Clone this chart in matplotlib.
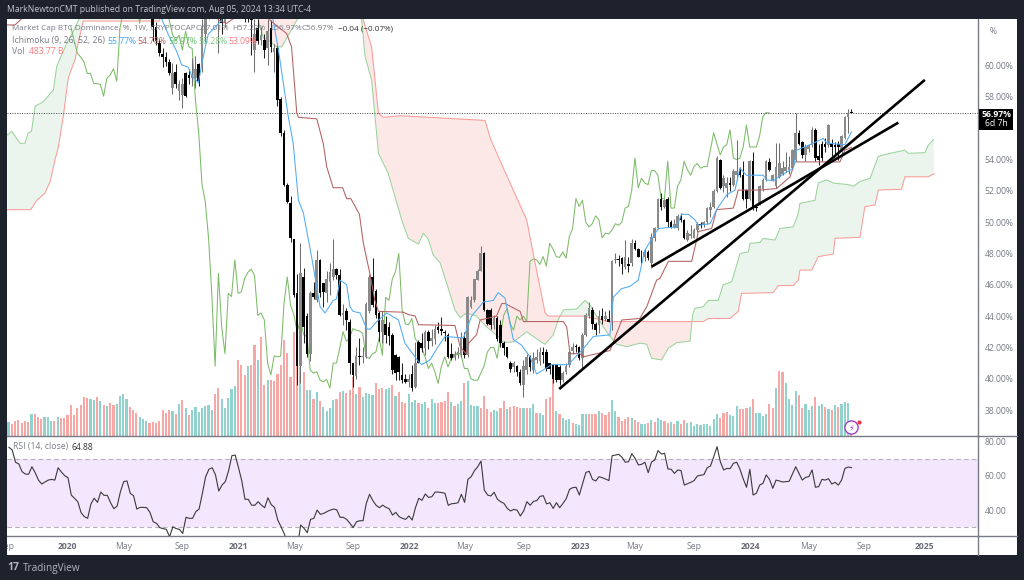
import numpy as np
import matplotlib
matplotlib.use("Agg")
import matplotlib.pyplot as plt
from matplotlib.patches import Rectangle

plt.rcParams['font.family'] = ['Open Sans', 'DejaVu Sans']

# ---------- data ----------
candle_first_week = 44
opens = [
 63.5,62.5,61.45,60.75,60.55,60.25,58.55,59.6,58.35,58.1,
 59.5,59.4,59.2,59.2,60.1,60,62,63.5,65,65.5,
 63.5,64,62.7,65,65,66,67,68.5,68,66.5,
 63.5,61,62.4,61.65,61.65,61.1,62.4,60.9,61.1,57.9,
 55.7,52.4,51.25,48.9,45.5,40.8,46.5,44,41.6,45.45,
 45,47.6,46.1,45.45,46.2,46.5,47,46.6,44.1,44.3,
 43.65,41,40.15,41.45,41.4,41.4,44.3,46.5,45.6,44.2,
 43,43.5,43.3,42.8,41.5,41.4,40.25,40,39.8,40.3,
 39.5,42.35,42.25,41.95,43,42.4,42.55,43.3,43.2,43,
 42.8,41.6,41.4,41.5,41.6,42.6,41.5,44.6,45,46.3,
 46.9,48,44.4,44.4,43.45,43.9,43.4,42.3,42,41,
 40.75,40.8,40.45,39.6,40.55,41.4,40.55,41.2,41.1,41.7,
 41.7,41,40.85,40.85,40.75,39.9,40.4,40.85,41.8,42.1,
 42,41.3,42.8,44,44.4,43.5,43.4,44,43.8,43.8,
 43.6,47.6,47.65,47.7,47.15,47.35,47.4,48.65,48.3,47.8,
 47.8,48.1,47.4,49,49.6,51.5,51,51.5,50,49.6,
 49.65,50.4,50.15,48.85,49.1,49,49.5,49.9,49.8,50,
 50.8,51,52,54,52.3,52.2,52.5,52.4,53,53.4,
 53,52.05,51.5,53.9,51,51.2,52.1,52.7,53.85,52.7,
 52.3,52.9,53.05,53.25,53.35,53.45,54,55.7,55.1,54.3,
 54.7,54.95,55.9,54.2,55,55,54.95,55,54.95,55,
 54.5,55.4,56.7,57.01]
highs = [
 64,62.8,61.7,61.1,60.9,60.4,60.2,60.1,59.1,59.2,
 59.6,59.8,60.5,60.6,60.2,63,65,66,66,67,
 66,65,66,66,67,68,69,70,69,67.5,
 64,63,63,62.5,62,63,62.9,61.4,61.3,58,
 55.9,52.5,51.67,48.95,46.7,48.65,47.05,44.2,45.6,46.2,
 48.2,47.65,46.1,46.9,47.4,48.9,47.1,47,44.8,44.5,
 43.8,41,42,42.6,42,44.9,46.7,47.7,45.7,44.3,
 44.3,44,43.6,42.9,41.6,41.45,41,40.3,40.3,40.9,
 42.35,42.5,42.9,43.1,43.1,43.2,43.4,43.6,43.96,43.1,
 42.9,42.25,41.8,42,43,43,45.3,45.3,46.4,47,
 48.45,48.1,44.45,44.5,44.1,44,43.75,42.4,42,41.1,
 41.1,40.9,40.6,41.2,41.6,41.5,41.7,41.9,42,42.05,
 41.9,41,40.9,40.9,40.9,40.5,41,41.85,42.3,42.2,
 42.1,42.9,44.2,44.9,44.6,43.6,44.4,44.5,44.3,44.4,
 47.6,48,47.9,47.8,48.85,47.8,48.9,48.85,48.35,48.2,
 48.3,48.2,49.3,49.7,51.55,51.85,51.5,51.6,50.15,50.2,
 50.5,50.6,50.2,49.5,49.8,49.6,50,50,50.1,51,
 51.3,52.1,54.2,54.05,53,52.9,52.9,53.4,55.25,53.5,
 53.9,52.1,54,54.5,51.1,52.4,52.8,54,54.1,53.1,
 55.05,55.05,53.9,54.5,54.2,54.7,57,55.9,55.2,55,
 55,56.1,56,55,55.2,55.4,56.3,55.3,55.1,55.2,
 55.6,56.8,57.2,57.22]
lows = [
 61.6,61.3,60.6,59.9,60,59.4,58.2,58.55,57.8,57.3,
 58,58.85,58.7,58.6,58.7,59.6,61.5,63,64,64.5,
 60.8,62,62.5,64,64.5,65.5,66,67,62.8,62.8,
 60.7,59.6,61.4,61.3,60.5,60.05,60.9,59.6,57.4,55.5,
 52.3,51.2,48.75,45.2,39.6,39.7,42.25,41.4,41.1,45.1,
 44.9,45.2,44.6,44.9,45.35,46.3,46.4,44,43.4,43.1,
 40.3,39.5,39.95,40.9,41,41.3,44.2,44.6,43.9,42.4,
 42.3,42.3,42.15,40.3,39.9,39.9,39.7,39.7,39.5,39.2,
 39.4,41,41.7,41.5,41.9,42.1,42.2,42.9,42.8,42.4,
 41.3,41.2,41.2,41.3,41.4,41.3,41.4,44.5,44.9,46.3,
 46.85,44.3,43.4,43.2,43.2,42.4,42.05,41.5,41.3,40.45,
 40.4,40.2,39.6,38.85,40.3,40.5,40.35,41,40.9,41,
 40.5,40.3,39.7,39.8,39.6,39.8,40.3,40.75,41.6,41.7,
 41.2,40.6,42.7,43.9,43.2,42.8,42.9,43.5,43.7,43.6,
 43.1,47.4,47.2,46.7,47,46.8,47.2,48.2,47.75,47.4,
 47.5,47.6,47.1,48.8,49.55,50.8,50.9,49.7,49.6,49.6,
 49.5,50,48.9,48.8,49,49,49.4,49.6,49.7,49.9,
 50.3,50.9,51.9,52.1,51.9,51.6,52,52.3,52.7,52.9,
 51.4,50.9,51.4,50.8,50.7,51.1,52,52.6,53.3,52.6,
 52.2,52.8,53,53.2,53.1,53.4,53.9,54.9,54.1,53.9,
 54.5,54.8,53.9,53.65,53.9,54.5,54.8,54.2,54.3,54,
 54.3,55.3,55.7,56.97]
closes = [
 62.5,61.6,60.8,60.55,60.25,59.5,59.5,58.85,58.85,58.8,
 58.05,59.2,59.4,59.8,59,62.4,63.5,65,65.5,66,
 64,62.7,65,64.8,66,67,68.5,68,66.5,64,
 62.9,62,61.6,61.95,61,62.2,61.2,61.1,57.8,55.7,
 52.4,51.3,48.97,45.35,40.8,46.73,43.3,41.6,45.45,45.25,
 47.6,45.45,45.55,46.4,46.8,47,46.6,44.05,44.2,43.75,
 41,40.25,41.45,41.4,41.45,44.8,46.5,44.7,44.1,43,
 43.75,42.8,42.7,40.55,40.35,40.45,39.9,39.8,39.95,39.4,
 41,41,41.95,43,42.4,42.6,43.2,43.1,43.05,42.9,
 41.4,41.3,41.6,41.7,42.6,41.5,45.2,45,46.35,46.85,
 48,44.4,43.5,43.45,43.85,42.55,42.3,41.95,41.4,40.65,
 41,40.45,39.7,40.8,41.4,40.75,41.3,41.4,41.7,41.5,
 40.65,40.65,40,39.9,39.9,40.35,40.8,41.7,42,42,
 41.3,42.8,44.05,44.5,43.5,43.1,44,43.75,44,43.65,
 47.5,47.65,47.6,47.3,47.8,47.2,48.65,48.3,47.8,47.75,
 48.1,47.7,49.08,49.6,51.5,51,51.4,50,49.7,49.9,
 50.4,50.15,49,49.3,49.25,49.5,49.9,49.8,50,50.9,
 51,52,54.1,52.2,52.8,52.5,52.4,53.3,53.3,53,
 51.5,51.5,53.9,50.9,50.9,52.3,52.7,53.9,53.35,53,
 53.55,53.75,53.45,53.55,53.55,54.6,55.7,55,54.3,54.8,
 54.95,55.9,54.1,54,54.1,54.8,56.2,54.8,54.8,54.8,
 55.5,56.75,57,56.97]

volume = [
 41,37,44,47,38,44,42,65,65,58,
 51,58,56,44,44,58,55,53,64,92,
 64,84,92,116,114,112,108,118,106,93,
 90,98,93,96,120,127,110,87,77,70,
 56,50,45,38,42,38,45,77,69,78,
 75,66,96,108,84,64,79,86,71,83,
 90,92,79,125,143,111,83,114,141,150,
 228,212,183,210,214,272,228,297,153,168,
 168,164,185,212,288,248,177,313,298,208,
 193,138,137,112,131,104,87,75,83,108,
 111,131,134,130,139,178,125,147,117,128,
 126,123,159,141,144,140,144,153,121,132,
 101,100,126,101,107,99,96,102,83,110,
 100,98,101,104,131,103,91,97,104,160,
 164,93,91,91,85,120,81,71,78,76,
 84,104,80,87,89,86,83,83,84,83,
 95,70,68,63,112,116,205,75,66,53,
 47,50,38,36,33,65,65,66,66,66,
 76,70,63,71,108,76,56,45,51,56,
 53,48,43,35,36,40,48,42,53,48,
 45,40,41,35,45,36,47,38,43,31,
 37,34,35,37,31,50,65,55,70,72,
 62,61,91,81,81,83,87,110,69,69,
 60,65,96,85,145,195,193,158,112,94,
 134,122,84,96,77,90,117,91,96,88,
 81,77,93,87,96,101,99,27]
volume_dir = ("trrrrrrtrr" "rtttrtrrrr" "rrrrrttrtr" "trrttttrrr" "tttrrrrrrr"
              "trtrtrtttt" "tttrrttttt" "rrrtrrtrrt" "rrrrrrrrrt" "rttrtrtttt"
              "rrtrrrtrtt" "ttrrrttrtr" "rrtttrttrt" "trrrrtrttr" "ttttrrrrtt"
              "rrtrrrrtrt" "trttrrrtrt" "ttrttttrrr" "trrrttrrrr" "trrttrtrtt"
              "rrtrtrrttt" "tttttttrrr" "tttrrrtrtt" "ttrrtrrttt" "trrtttrttr"
              "trtrtttr")

tenkan_week = [46.7,48.7,51.3,52.8,54.8,55.8,57.9,58.9,59.9,60.9,65,68,78,80.7,82.3,85.3,86.8,88.4,89.9,92.4,95,96.5,99,100,101.1,103.1,104.1,105.1,107.2,109.2,110.2,112.3,115.3,118.9,120.9,125,126,128.5,131,133.1,138.7,141.2,144.8,147.8,149.3,151.4,153.9,156.4,159,161,165.6,170.7,175.8,178.3,183.4,184.4,186.9,189.5,192,194,198.1,203.7,205.2,207.3,209.3,210.3,213.9,215.9,219,221.5,223,225,230.1,231.2,233.2,235.7,239.3,240.3,244.4,248.4,249.5,255,257]
tenkan = [63,62,60.9,60.05,59.9,59.4,58.9,60.05,61.1,62,62.9,65,65,62.9,61,56.75,55.05,51.4,50.6,47.8,44.6,44.2,45,45.1,46.3,46,44.6,44.3,44.2,43.2,43.15,43.65,44.2,43.75,42.25,41.1,40.9,41.2,42.05,42.7,42.6,44,44.9,45,45.5,45.15,42.5,42.15,41.4,40.3,40.9,40.9,42.05,42.7,42.8,45.2,45.75,45.9,46.3,48.2,49.6,49.7,50.5,50.5,50.15,49.8,49.9,50.8,51.75,52.05,53.45,53,53,52.7,52.65,53,53.45,54.6,54.95,55.35,55.05,54.95,55.77]

kijun_week = [-0.5,2,4,8,60,64,66.5,68.5,72,78,79.7,84.8,86.3,87.9,88.4,94,96,97,99,101.9,103.1,104.4,107,108.2,110.2,111.7,112.8,120.4,121.9,124,125,136.1,137.7,139.5,140.2,142.7,143.8,148.8,150.4,151.4,156,157,169.2,170.2,171.2,174.2,175.3,183.4,187,192.5,194.6,197.6,198.6,201.2,208.3,209.8,210.3,214.4,215.9,221,222.5,229.1,234.2,238.3,239.8,253.5,255,257]
kijun = [62.6,62.6,63,65,65,62.9,62.7,63,66,66,62.9,62.05,61.2,56.96,56.7,56.6,55,53.55,52.2,52.2,51.5,51.5,50.5,48.65,46.7,45,44.3,44.25,44.1,44,43.45,43.4,42.05,41.6,42.25,42.8,43.75,44,44.8,44.8,44.3,43.65,43.65,43.3,41.6,41.6,41.4,41.8,43.75,43.85,44.6,46.3,46.4,47.5,47.5,48.85,49.4,49.6,50.8,50.9,52.05,52.05,52.15,52.9,53.85,53.85,54.6,54.78]

span_a_week = [-0.4,1,3.5,5,6,7,8.1,10.6,13.7,14.7,17.7,20.3,21.3,24,46,60,72,76.2,77.7,79.2,81.8,83.3,84.8,87.9,92,105,107.7,108.7,110.7,112.8,115.8,119.9,121.9,125,126.5,128,129.5,131.6,133.6,136.1,137.7,139.7,142.7,145.8,149.9,150.9,153.9,158,162,163.6,166.1,167.6,169.2,173.2,175.8,177.3,179.3,181.4,183.4,185.4,188.5,192.5,194.6,196.1,199.1,201.2,203.7,207.8,208.6,209.3,211.8,213.4,216.4,217.9,220.5,222.5,223,225.6,226.1,229.1,230.1,233.7,235.2,239.3,240.8,241.3,245.9,246.9,249.4,251.5,256,257.6,259.6,262.7,265.2,267.7,273.3,274.3,279.4,280.4,282]
span_a = [55.57,55.8,55.04,55.04,55.7,55.8,57.4,57.7,58.45,59.95,61.4,62.4,62.9,64,65,66,65,62.9,61.75,61.65,61.2,61.2,61.75,62.9,64.5,64.5,62.9,60.6,59.1,54.4,53.1,50.14,48.97,48.6,49.3,48.9,47.9,47.4,46.1,44.4,43.9,44.2,44,43.3,42.6,42.3,42.35,43,42.4,42.2,42.8,43.75,44.4,44.45,45,44.7,44,43.3,42.7,42.2,42.05,42.27,42.2,41.3,41.2,41.95,42.3,42.4,44.1,44.5,44.6,45,45,46,46.2,47.6,48,48.1,48.65,48.7,48.96,48.86,49.6,49.7,50.56,51.2,51.4,52.5,52.7,52.5,52.4,52.3,52.6,52.8,54.2,54.35,54.6,54.4,54.44,54.9,55.28]

span_b_week = [-0.4,6.8,8.6,11.1,12.7,14.2,15.2,16.7,18.2,20.3,21.3,22.8,46,50,105,108.2,110.7,112.8,114.3,119.4,145.3,147,151,158,160,162,163.6,164.6,175.3,183.4,192.5,211.8,213.4,220,222.5,223.5,233.2,234.7,239.3,240.8,241.3,244.9,246.9,251.5,252,259.6,261.1,264.2,265.2,272.3,273.3,280.4,282.2]
span_b = [50.8,50.8,51.4,51.85,52.6,54,54.8,56.75,59.2,60.4,61.5,62.85,62.85,66,66,62.9,61.2,56.96,56.7,56.8,56.5,55.3,53.4,50.14,48,45.9,44.2,44,44,43.65,43.65,43.65,43.85,43.85,44.3,45.45,45.5,45.95,45.95,46.3,46.94,46.94,47.8,47.96,48.97,49.03,50.99,51.1,52.05,52.1,52.9,52.9,53.09]

rsi = [
 76.7,75.1,68,67,62.5,61.1,61,65.4,61.9,57.6,
 55.3,56.5,57.6,58,57.6,64.8,62.3,60.2,59,48.9,
 47,45,38.6,36.3,35.3,43.7,47,44.6,50.6,48.7,
 48.7,44.4,40.9,42.5,50.8,56.7,57.1,49.9,48.5,40.7,
 41.7,41.7,41.5,38.8,33.3,32.4,29.9,29.3,28.9,24.6,
 30.4,29.3,28.9,26.5,35.9,35.3,35.3,39.2,40.7,49.9,
 59.6,63.9,64.8,60.6,51.2,54.7,56.7,63.1,71.8,72.2,
 65,57.3,46.4,46.4,43,42.9,45,43,41.5,47.3,
 43.3,41.7,34.3,30.4,26.2,20.7,18.8,18.8,18.8,31.4,
 29.5,26.9,34.7,35.3,40.1,37.6,38.2,39.2,40.1,40.7,
 40.3,35.9,35.9,34.7,32.4,29.9,33.3,33.9,33.9,44,
 49.3,45.6,42.9,41.5,43,41.7,40.9,37.2,38.8,36.3,
 35.3,34.7,36.7,34.3,41.5,47,45.8,49.5,47.5,47.9,
 50.6,50.6,50.3,49.9,42.9,43.8,44,44.4,49.3,44.6,
 58,59.6,63.1,65.4,68.7,51.8,48.9,48.3,50.5,46.4,
 45,44,41.1,39.6,40.5,40.1,36.7,39.6,45,42.9,
 45.2,45.6,48.1,48.5,43.7,44.4,41.1,44.4,41.5,44,
 46.8,52.2,53.2,53.4,48.9,55.7,62.1,62.7,58,57.1,
 59.6,59,58.2,57.3,71.8,72.2,72.6,70.9,68,68.3,
 73,70.3,66.4,66.8,68,61.9,68.1,69.3,74.8,72.8,
 73.2,64.1,63.9,61.5,63.5,63.1,54.7,55.5,56.3,57.3,
 60,60.4,60.8,64.8,65.8,71.3,77.1,68.3,63.5,64.4,
 64.3,67.4,68,63.9,58.2,53.4,63.9,48.9,49.9,54.7,
 55.7,60.6,58,52.8,57.6,57.1,56.5,56.7,56.9,61.1,
 65.4,61.5,57.6,59.2,59.6,63.5,53.4,53.8,58,57.6,
 58.4,55.3,56.3,54.7,57.6,64.4,65.2,64.88]

y_ticks_main = [38,40,42,44,46,48,50,52,54,58,60]
y_ticks_rsi = [40,60,80]
time_pos = [-0.6,17.8,34.9,52.9,70,87,105,122.1,139,157,174.3,191,209,226.3,244,261,279.4]
time_lab = ["Sep","2020","May","Sep","2021","May","Sep","2022","May","Sep","2023","May","Sep","2024","May","Sep","2025"]
trend1_week, trend1 = [196.1,271.3], [47.16,56.36]
trend2_week, trend2 = [167.9,279.4], [39.34,59.09]
last_price = 56.97

# ---------- layout ----------
W, H = 1024, 580
DARK = '#1e222d'
GREY = '#787b86'
FS = 6.25
fig = plt.figure(figsize=(W/100, H/100), dpi=100, facecolor=DARK)

def rect(x0, y0, x1, y1):
    return [x0/W, 1-y1/H, (x1-x0)/W, (y1-y0)/H]
def ftext(x, y, s, **kw):
    kw.setdefault('fontsize', FS)
    kw.setdefault('color', GREY)
    kw.setdefault('va', 'center')
    return fig.text(x/W, 1-y/H, s, **kw)

fig.add_artist(Rectangle((7/W, 1-555/H), (1016.5-7)/W, (555-19)/H, transform=fig.transFigure,
                         fc='white', ec='none', zorder=-5))

XLIM = (-0.457, 295.6)
ax_vol = fig.add_axes(rect(7, 19, 978, 436), zorder=1)
ax = fig.add_axes(rect(7, 19, 978, 436), zorder=2)
ax.patch.set_alpha(0); ax_vol.patch.set_alpha(0)
ax.set_xlim(XLIM); ax.set_ylim(36.34, 62.98)
ax_vol.set_xlim(XLIM); ax_vol.set_ylim(0, 1251)
ax_vol.axis('off')

# volume
wk = np.arange(len(volume))
vcol = ['#26a69a' if d == 't' else '#ef5350' for d in volume_dir]
ax_vol.bar(wk, volume, width=0.66, color=vcol, alpha=0.5, linewidth=0)

# cloud
grid = np.arange(-1, 282.25, 0.1)
ga = np.interp(grid, span_a_week, span_a)
gb = np.interp(grid, span_b_week, span_b)
ok = (grid >= -0.4) & (grid <= 282.2)
ax.fill_between(grid, ga, gb, where=ok & (ga >= gb), color='#ecf5ed', linewidth=0, zorder=1)
ax.fill_between(grid, ga, gb, where=ok & (ga < gb), color='#fde8e8', linewidth=0, zorder=1)
ax.plot(span_a_week, span_a, color='#9ad49c', lw=0.75, zorder=2)
ax.plot(span_b_week, span_b, color='#fb9b98', lw=0.75, zorder=2)

# candles
o, h, l, c = map(np.array, (opens, highs, lows, closes))
cw = candle_first_week + np.arange(len(c))
up = c >= o
ax.vlines(cw[up], l[up], h[up], color='#6f6f6f', lw=0.75, zorder=4)
ax.vlines(cw[~up], l[~up], h[~up], color='#222222', lw=0.75, zorder=4)
ax.bar(cw[up], (c-o)[up], bottom=o[up], width=0.8, color='#8a8a8a', linewidth=0, zorder=5)
ax.bar(cw[~up], (c-o)[~up], bottom=o[~up], width=0.8, color='#000000', linewidth=0, zorder=5)

# ichimoku lines
ax.plot(cw-25, c, color='#7cbb68', lw=0.75, zorder=3)
ax.plot(kijun_week, kijun, color='#b45f5f', lw=0.75, zorder=6)
ax.plot(tenkan_week, tenkan, color='#4fabf5', lw=0.75, zorder=6)

# price line and drawn trend lines
ax.axhline(last_price, color='#444444', lw=0.7, ls=(0, (1, 1.5)), zorder=3)
ax.plot(trend1_week, trend1, color='black', lw=1.9, zorder=7, solid_capstyle='butt')
ax.plot(trend2_week, trend2, color='black', lw=1.9, zorder=7, solid_capstyle='butt')

# alert icon
ax.plot([257], [36.9], 'o', ms=9.5, mfc='white', mec='#a23fc4', mew=1.0, zorder=8)
ax.text(257, 36.9, '\u26a1', color='#a23fc4', fontsize=6, ha='center', va='center', zorder=9,
        family='DejaVu Sans')
ax.plot([259.2], [37.25], 'o', ms=3, mfc='#f23645', mec='none', zorder=9)

ax.set_xticks([])
ax.yaxis.tick_right()
ax.set_yticks(y_ticks_main)
ax.set_yticklabels([f'{v:.2f}%' for v in y_ticks_main], fontsize=FS, color=GREY)
ax.tick_params(axis='y', length=0, pad=4.8)
for s in ['top', 'left']:
    ax.spines[s].set_visible(False)
for s in ['right', 'bottom']:
    ax.spines[s].set_color(GREY); ax.spines[s].set_linewidth(1)

# RSI pane
axr = fig.add_axes(rect(7, 436, 978, 536), zorder=2)
axr.patch.set_alpha(0)
axr.set_xlim(XLIM); axr.set_ylim(25.0, 83.3)
axr.axhspan(30, 70, color='#f4e6fd', linewidth=0)
for lev in (30, 70):
    axr.axhline(lev, color='#b6aebd', lw=0.8, ls=(0, (4, 3)))
axr.plot(np.arange(len(rsi)), rsi, color='#3a3a3a', lw=0.8)
axr.yaxis.tick_right()
axr.set_yticks(y_ticks_rsi)
axr.set_yticklabels([f'{v:.2f}' for v in y_ticks_rsi], fontsize=FS, color=GREY)
axr.tick_params(axis='y', length=0, pad=4.8)
axr.set_xticks(time_pos)
axr.set_xticklabels(time_lab, fontsize=FS, color=GREY)
axr.tick_params(axis='x', length=0, pad=4.5)
for t in axr.get_xticklabels():
    if t.get_text().isdigit():
        t.set_fontweight('bold'); t.set_color('#6a6d78')
for s in ['top', 'left']:
    axr.spines[s].set_visible(False)
for s in ['right', 'bottom']:
    axr.spines[s].set_color(GREY); axr.spines[s].set_linewidth(1)

# separators to the right of the plot panes and below the time scale
fig.add_artist(plt.Line2D([978/W, 1016.5/W], [1-436/H]*2, color=GREY, lw=1))
fig.add_artist(plt.Line2D([978/W, 1016.5/W], [1-536/H]*2, color=GREY, lw=1))
fig.add_artist(plt.Line2D([978/W, 978/W], [1-536/H, 1-555/H], color=GREY, lw=1))

# mask for the left edge: clips the first time label as in the reference
axm = fig.add_axes(rect(0, 536, 7, 560), zorder=5)
axm.set_facecolor(DARK); axm.set_xticks([]); axm.set_yticks([])
for s in axm.spines.values():
    s.set_visible(False)

# texts
ftext(7, 10, 'MarkNewtonCMT published on TradingView.com, Aug 05, 2024 13:34 UTC-4', color='#c3c6ce', zorder=10)
ftext(12, 29, 'Market Cap BTC Dominance, %, 1W, CRYPTOCAP', zorder=10, fontsize=5.9)
ftext(195, 29, 'O57.01%', zorder=10, fontsize=5.9)
ftext(232, 29, 'H57.22%', zorder=10, fontsize=5.9)
ftext(270, 29, 'L56.97%', zorder=10, fontsize=5.9)
ftext(302, 29, 'C56.97%', zorder=10, fontsize=5.9)
ftext(338, 29, '\u22120.04 (\u22120.07%)', color='#333333', zorder=10, fontsize=5.9)
ftext(12, 41, 'Ichimoku (9, 26, 52, 26)', zorder=10)
ftext(107, 41, '55.77%', color='#42a5f5', zorder=10)
ftext(137, 41, '54.78%', color='#b05b5b', zorder=10)
ftext(168, 41, '56.97%', color='#66bb6a', zorder=10)
ftext(198, 41, '55.28%', color='#81c784', zorder=10)
ftext(228, 41, '53.09%', color='#f77c80', zorder=10)
ftext(12, 52, 'Vol', zorder=10)
ftext(29, 52, '483.77 B', color='#f77c80', zorder=10)
ftext(13, 447, 'RSI (14, close)', zorder=10)
ftext(71, 447, '64.88', color='#333333', zorder=10)
ftext(990, 31, '%', zorder=10)

fig.add_artist(Rectangle((979/W, 1-130/H), 34/W, 21/H, transform=fig.transFigure, fc='black', ec='none', zorder=20))
ftext(996, 114.5, '56.97%', color='white', fontweight='bold', ha='center', zorder=21)
ftext(996, 124, '6d 7h', color='white', ha='center', zorder=21)

ftext(7.5, 568, '17', color='#b2b5be', fontweight='bold', fontsize=7.5, zorder=10)
ftext(23, 568, 'TradingView', color='#b2b5be', fontsize=7.2, zorder=10)

fig.savefig('out.png', dpi=100, facecolor=DARK)
